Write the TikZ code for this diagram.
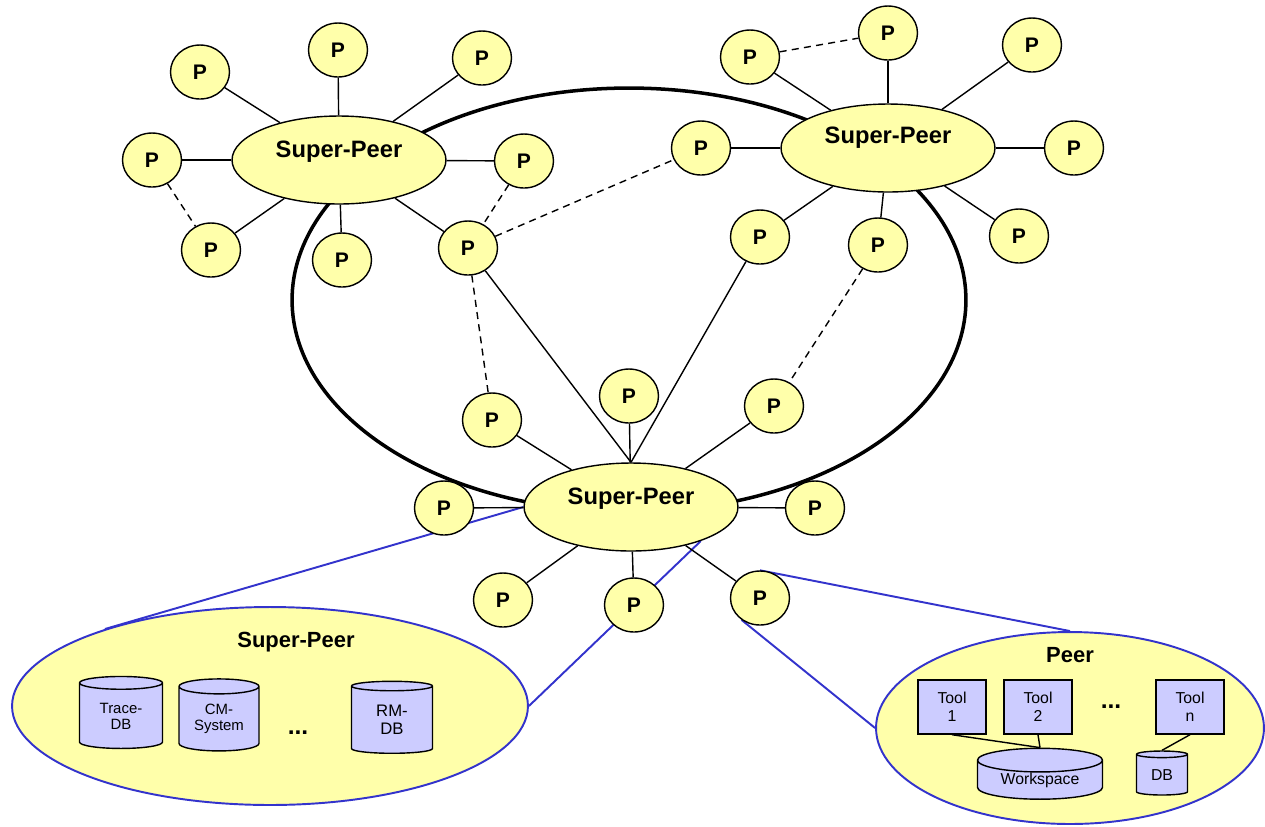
\documentclass[tikz,border=0pt]{standalone}
\usepackage{fontspec}
\setmainfont{Liberation Sans}
\usetikzlibrary{shapes.geometric}
\pgfdeclarelayer{bg}
\pgfsetlayers{bg,main}
\definecolor{peerfill}{RGB}{255,255,170}
\definecolor{storefill}{RGB}{204,204,255}
\definecolor{zoomblue}{RGB}{51,51,204}
\tikzset{
  peer/.style={ellipse, draw=black, line width=0.8pt, fill=peerfill,
    minimum width=1.18cm, minimum height=1.08cm, inner sep=0pt,
    font=\bfseries\fontsize{12}{12}\selectfont},
  super/.style={ellipse, draw=black, line width=0.8pt, fill=peerfill,
    minimum width=4.28cm, minimum height=1.76cm, inner sep=0pt},
  sptext/.style={font=\bfseries\fontsize{13.5}{14}\selectfont},
  link/.style={line width=0.8pt},
  shortcut/.style={line width=0.8pt, dashed, dash pattern=on 4pt off 3pt},
  ring/.style={line width=2pt},
  callout/.style={ellipse, draw=zoomblue, line width=1.1pt, fill=peerfill, inner sep=0pt},
  zoomline/.style={draw=zoomblue, line width=1.1pt},
  store/.style={cylinder, shape border rotate=90, draw=black, line width=0.8pt,
    fill=storefill, aspect=0.3, inner sep=0pt, align=center,
    font=\fontsize{8.5}{9}\selectfont},
  tool/.style={rectangle, draw=black, line width=0.8pt, fill=storefill,
    inner sep=0pt, align=center, font=\fontsize{9}{10}\selectfont},
  dots/.style={font=\bfseries\fontsize{14}{14}\selectfont},
}
\begin{document}
\begin{tikzpicture}[x=0.02cm, y=-0.02cm]
\useasboundingbox (0,0) rectangle (1265,826);

% ---------- super-peers ----------
\node[super] (s1) at (339,160) {};
\node[sptext] at (339,152) {Super-Peer};
\node[super] (s2) at (888,148) {};
\node[sptext] at (888,138) {Super-Peer};
\node[super] (s3) at (631,507) {};
\node[sptext] at (631,499) {Super-Peer};

% ---------- peers around the upper left super-peer ----------
\node[peer] (a1) at (200,72)  {P};
\node[peer] (a2) at (338,50)  {P};
\node[peer] (a3) at (482,58)  {P};
\node[peer] (a4) at (152,160) {P};
\node[peer] (a5) at (524,161) {P};
\node[peer] (a6) at (211,250) {P};
\node[peer] (a7) at (342,260) {P};
\node[peer] (a8) at (468,248) {P};

% ---------- peers around the upper right super-peer ----------
\node[peer] (b1) at (750,57)   {P};
\node[peer] (b2) at (888,33)   {P};
\node[peer] (b3) at (1032,45)  {P};
\node[peer] (b4) at (701,148)  {P};
\node[peer] (b5) at (1074,148) {P};
\node[peer] (b6) at (760,237)  {P};
\node[peer] (b7) at (878,245)  {P};
\node[peer] (b8) at (1019,236) {P};

% ---------- peers around the lower super-peer ----------
\node[peer] (c1) at (492,420) {P};
\node[peer] (c2) at (629,396) {P};
\node[peer] (c3) at (774,406) {P};
\node[peer] (c4) at (444,508) {P};
\node[peer] (c5) at (815,508) {P};
\node[peer] (c6) at (503,600) {P};
\node[peer] (c7) at (634,605) {P};
\node[peer] (c8) at (760,598) {P};

% ---------- detail of a super-peer ----------
\node[callout, minimum width=10.32cm, minimum height=3.96cm] (spd) at (270,706) {};
\node[font=\bfseries\fontsize{12.5}{13}\selectfont] at (296,642) {Super-Peer};
\node[store, minimum width=1.66cm, minimum height=1.44cm] (trace) at (121,716) {Trace-\\DB};
\node[store, minimum width=1.60cm, minimum height=1.44cm] (cms) at (219,719) {CM-\\System};
\node[dots] at (298,733) {...};
\node[store, minimum width=1.62cm, minimum height=1.44cm, font=\fontsize{9.5}{10.5}\selectfont] (rm) at (392,720) {RM-\\DB};

% ---------- detail of a peer ----------
\node[callout, minimum width=7.76cm, minimum height=3.84cm] (pd) at (1070,728) {};
\node[font=\bfseries\fontsize{12.5}{13}\selectfont] at (1070,655) {Peer};
\node[tool, minimum width=1.36cm, minimum height=1.08cm] (t1) at (952,707)  {Tool\\1};
\node[tool, minimum width=1.36cm, minimum height=1.08cm] (t2) at (1038,707) {Tool\\2};
\node[dots] at (1111,707) {...};
\node[tool, minimum width=1.36cm, minimum height=1.08cm] (tn) at (1190,707) {Tool\\n};
\node[store, minimum width=2.50cm, minimum height=1.00cm, font=\fontsize{9}{10}\selectfont] (ws) at (1040,780) {Workspace};
\node[store, minimum width=1.02cm, minimum height=0.88cm, font=\fontsize{9}{10}\selectfont] (db) at (1162,775) {DB};
\draw[link] (t1.south) -- (ws.north);
\draw[link] (t2.south) -- (ws.north);
\draw[link] (tn.south) -- (db.north);

% ---------- everything below the nodes ----------
\begin{pgfonlayer}{bg}
  % backbone ring joining the super-peers
  \node[ellipse, draw, ring, minimum width=13.48cm, minimum height=8.48cm, inner sep=0pt] (ring) at (629,300) {};

  % zoom lines to the detail views
  \draw[zoomline] (s3.west) -- (spd.155);
  \draw[zoomline] (s3.-26) -- (spd.east);
  \draw[zoomline] (c8.north) -- (pd.north);
  \draw[zoomline] (c8.-130) -- (pd.west);

  % star links
  \foreach \p in {a1,a2,a3,a4,a5,a6,a7,a8} \draw[link] (s1) -- (\p);
  \foreach \p in {b1,b2,b3,b4,b5,b6,b7,b8} \draw[link] (s2) -- (\p);
  \foreach \p in {c1,c2,c3,c4,c5,c6,c7,c8} \draw[link] (s3) -- (\p);
  \draw[link] (a8) -- (s3.north);
  \draw[link] (b6) -- (s3.north);

  % direct peer-to-peer links
  \draw[shortcut] (a4) -- (a6);
  \draw[shortcut] (a5) -- (a8);
  \draw[shortcut] (a8) -- (b4);
  \draw[shortcut] (a8) -- (c1);
  \draw[shortcut] (b1) -- (b2);
  \draw[shortcut] (b7) -- (c3);
\end{pgfonlayer}
\end{tikzpicture}
\end{document}
